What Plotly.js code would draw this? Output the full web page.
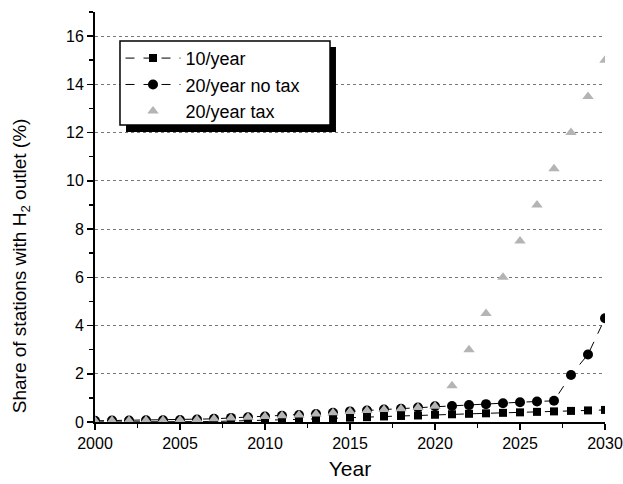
<!DOCTYPE html>
<html><head><meta charset="utf-8">
<script src="https://cdn.plot.ly/plotly-3.0.1.min.js"></script>
<style>html,body{margin:0;padding:0;background:#fff}#chart{width:623px;height:484px}</style>
</head><body><div id="chart"></div>
<script>
var years = [];
for (var y = 2000; y <= 2030; y++) years.push(y);
var tenPerYear = [0.0,0.0,0.0,0.0,0.0,0.01,0.01,0.02,0.04,0.05,0.07,0.09,0.11,0.13,0.16,0.18,0.2,0.23,0.25,0.27,0.3,0.32,0.34,0.36,0.38,0.4,0.42,0.44,0.46,0.48,0.5];
var twentyNoTax = [0.05,0.06,0.06,0.07,0.07,0.08,0.1,0.13,0.17,0.2,0.23,0.26,0.29,0.33,0.38,0.44,0.48,0.52,0.55,0.6,0.65,0.66,0.7,0.74,0.78,0.82,0.85,0.88,1.95,2.8,4.3];
var twentyTax = [0.05,0.06,0.06,0.07,0.07,0.08,0.1,0.13,0.17,0.2,0.23,0.26,0.29,0.33,0.38,0.44,0.48,0.52,0.55,0.6,0.65,1.5,3.0,4.5,6.0,7.5,9.0,10.5,12.0,13.5,15.0];
var seriesNames = ['10/year','20/year no tax','20/year tax'];

var traces = [
  {x: years, y: tenPerYear, name: seriesNames[0], type: 'scatter', mode: 'lines+markers',
   line: {color: '#000', width: 1, dash: 'dash'}, marker: {symbol: 'square', size: 8, color: '#000'}},
  {x: years, y: twentyNoTax, name: seriesNames[1], type: 'scatter', mode: 'lines+markers',
   line: {color: '#000', width: 1, dash: 'dash'}, marker: {symbol: 'circle', size: 10, color: '#000'}},
  {x: years, y: twentyTax, name: seriesNames[2], type: 'scatter', mode: 'markers',
   marker: {symbol: 'triangle-up', size: 10, color: '#b4b4b4'}}
];

var font = 'Arial, "Liberation Sans", sans-serif';
var layout = {
  width: 623, height: 484,
  margin: {l: 95, r: 18, t: 12, b: 62},
  paper_bgcolor: '#fff', plot_bgcolor: '#fff',
  font: {family: font, color: '#000', size: 16},
  showlegend: true,
  legend: {x: 0.05, y: 0.932, xanchor: 'left', yanchor: 'top', bgcolor: 'rgba(0,0,0,0)',
           borderwidth: 0, font: {size: 18, family: font},
           itemwidth: 55, tracegroupgap: 0},
  xaxis: {range: [2000, 2030], tickvals: [2000,2005,2010,2015,2020,2025,2030],
          ticks: 'outside', ticklen: 6, tickwidth: 1.5, tickcolor: '#000',
          minor: {dtick: 2.5, tick0: 2000, ticks: 'outside', ticklen: 4, tickcolor: '#000', showgrid: false},
          showline: true, linecolor: '#000', linewidth: 2, showgrid: false, zeroline: false,
          tickfont: {size: 16}, title: {text: 'Year', font: {size: 21}, standoff: 10}},
  yaxis: {range: [0, 17], tickvals: [0,2,4,6,8,10,12,14,16],
          ticks: 'outside', ticklen: 6, tickwidth: 1.5, tickcolor: '#000',
          minor: {dtick: 1, ticks: 'outside', ticklen: 4, tickcolor: '#000', showgrid: false},
          showline: true, linecolor: '#000', linewidth: 2,
          showgrid: true, gridcolor: '#777', gridwidth: 1, griddash: 'dot', zeroline: false,
          tickfont: {size: 16}, title: {text: ''}},
  shapes: [
    {type: 'rect', xref: 'paper', yref: 'paper', x0: 0.0608, x1: 0.4725, y0: 0.7073, y1: 0.9146,
     fillcolor: '#000', line: {width: 0}, layer: 'above'},
    {type: 'rect', xref: 'paper', yref: 'paper', x0: 0.049, x1: 0.4608, y0: 0.7244, y1: 0.9293,
     fillcolor: '#fff', line: {width: 1.5, color: '#000'}, layer: 'above'}
  ],
  annotations: [
    {xref: 'paper', yref: 'paper', x: -0.145, y: 0.38, textangle: -90, showarrow: false,
     text: 'Share of stations with H<sub>2</sub> outlet (%)', font: {size: 19, family: font},
     xanchor: 'center', yanchor: 'middle'}
  ]
};
Plotly.newPlot('chart', traces, layout, {displayModeBar: false, staticPlot: true});
</script></body></html>
